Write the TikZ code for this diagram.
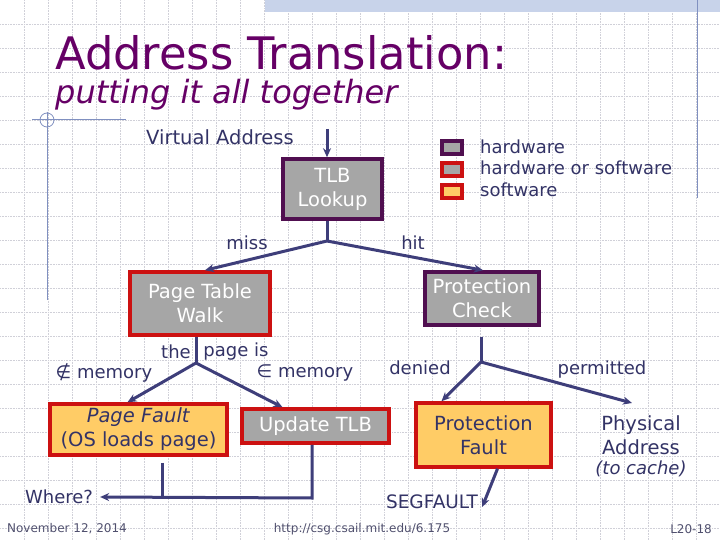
\documentclass[tikz,border=0pt]{standalone}
\usepackage{fontspec}
\setmainfont{DejaVu Sans}
\definecolor{slidepurple}{RGB}{102,0,102}
\definecolor{slidenavy}{RGB}{51,51,102}
\definecolor{linenavy}{RGB}{62,62,122}
\definecolor{footgray}{RGB}{80,80,110}
\definecolor{boxgray}{RGB}{166,166,166}
\definecolor{boxorange}{RGB}{255,204,102}
\definecolor{hwedge}{RGB}{80,15,80}
\definecolor{swedge}{RGB}{204,17,17}
\definecolor{gridgray}{RGB}{208,208,216}
\definecolor{bandblue}{RGB}{200,211,234}
\definecolor{rulerblue}{RGB}{128,144,192}
\usetikzlibrary{arrows.meta,positioning,calc}

\newcommand{\boxfont}{\fontsize{19.5}{24}\selectfont}
\newcommand{\lblfont}{\fontsize{18}{24}\selectfont}

\begin{document}
\begin{tikzpicture}[x=1pt,y=-1pt,
    gridline/.style={draw=gridgray, densely dotted, line width=0.6pt},
    hwbox/.style={draw=hwedge, fill=boxgray, line width=3.5pt, text=white, align=center, inner sep=0pt, font=\boxfont},
    mixbox/.style={hwbox, draw=swedge},
    swbox/.style={mixbox, fill=boxorange, text=slidenavy},
    keybox/.style={line width=3.5pt, minimum width=20pt, minimum height=13pt, inner sep=0pt},
    lbl/.style={text=slidenavy, font=\lblfont, inner sep=1pt, align=center},
    foot/.style={text=footgray, font=\fontsize{12}{14}\selectfont, inner sep=0pt},
    flow/.style={draw=linenavy, line width=3pt},
    arr/.style={flow, -{Stealth[length=9pt,width=8pt]}},
]
    \useasboundingbox (0,0) rectangle (720,540);
    \fill[white] (0,0) rectangle (720,540);
    \foreach \gx in {1,...,29}
        \draw[gridline] (24*\gx+0.5,0) -- (24*\gx+0.5,540);
    \foreach \gy in {1,...,22}
        \draw[gridline] (0,24*\gy) -- (720,24*\gy);
    \fill[bandblue] (265,0) rectangle (720,12);
    \draw[rulerblue, line width=1pt] (697,0) -- (697,198);
    \draw[rulerblue, line width=1pt] (32,120) -- (126,120);
    \draw[rulerblue, line width=1pt] (47,112) -- (47,300);
    \draw[rulerblue, line width=0.8pt] (47,120) circle[radius=7];

    \node[anchor=base west, text=slidepurple, font=\fontsize{44.8}{48}\selectfont, inner sep=0pt] (title) at (55,70) {Address Translation:};
    \node[anchor=base west, text=slidepurple, font=\fontsize{32}{34}\selectfont\itshape, inner sep=0pt] (subtitle) at (55,104) {putting it all together};

    % legend
    \node[keybox, draw=hwedge, fill=boxgray] (khw) at (452,147.5) {};
    \node[keybox, draw=swedge, fill=boxgray] (kmix) at (452,169.5) {};
    \node[keybox, draw=swedge, fill=boxorange] (ksw) at (452,191.5) {};
    \node[lbl, anchor=west] (lhw) at (479,147) {hardware};
    \node[lbl, anchor=west] (lmix) at (479,168) {hardware or software};
    \node[lbl, anchor=west] (lsw) at (479,190) {software};

    % boxes
    \node[lbl, font=\boxfont] (va) at (220,137) {Virtual Address};
    \node[hwbox, minimum width=99pt, minimum height=60pt] (tlb) at (332.5,189) {TLB\\Lookup};
    \node[mixbox, minimum width=140pt, minimum height=63pt] (ptw) at (200,303.5) {Page Table\\Walk};
    \node[hwbox, minimum width=114pt, minimum height=53pt] (pcheck) at (482,298.5) {Protection\\Check};
    \node[swbox, minimum width=177pt, minimum height=51pt] (pfault) at (138.5,429.5) {\textit{Page Fault}\\(OS loads page)};
    \node[mixbox, minimum width=147pt, minimum height=34pt] (utlb) at (315.5,426) {Update TLB};
    \node[swbox, minimum width=135pt, minimum height=64pt] (prfault) at (483.5,435) {Protection\\Fault};
    \node[lbl, font=\boxfont] (phys) at (641,435) {Physical\\Address};
    \node[lbl] (tocache) at (641,469) {\textit{(to cache)}};
    \node[lbl] (where) at (59,497) {Where?};
    \node[lbl, font=\fontsize{18.5}{24}\selectfont] (segf) at (432,502) {SEGFAULT};

    % labels
    \node[lbl] (miss) at (247,243) {miss};
    \node[lbl] (hit) at (413,243) {hit};
    \node[lbl] (the) at (176,352) {the};
    \node[lbl] (pageis) at (236,352) {page is};
    \node[lbl] (notin) at (104,373) {∉ memory};
    \node[lbl] (isin) at (305,373) {∈ memory};
    \node[lbl] (denied) at (420,368) {denied};
    \node[lbl] (permitted) at (602,370) {permitted};

    % connectors
    \coordinate (vatop) at (327,129);
    \coordinate (tlbsplit) at (327,241);
    \coordinate (ptwsplit) at (196,363);
    \coordinate (pcsplit) at (481,362);
    \coordinate (physend) at (632,403);
    \coordinate (wherejoin) at (312,498);
    \draw[arr] (vatop) -- (tlb.north -| vatop);
    \draw[flow] (tlb.south -| tlbsplit) -- (tlbsplit);
    \draw[arr] (tlbsplit) -- ([xshift=5pt]ptw.north);
    \draw[arr] (tlbsplit) -- ([xshift=1pt]pcheck.north);
    \draw[flow] (ptw.south -| ptwsplit) -- (ptwsplit);
    \draw[arr] (ptwsplit) -- ([xshift=-11pt]pfault.north);
    \draw[arr] (ptwsplit) -- ([xshift=-33pt]utlb.north);
    \draw[flow] ([yshift=-10pt]pcheck.south -| pcsplit) -- (pcsplit);
    \draw[arr] (pcsplit) -- ([xshift=-42pt]prfault.north);
    \draw[arr] (pcsplit) -- (physend);
    \draw[arr] (utlb.south -| wherejoin) -- (wherejoin) -- ([xshift=6pt]where.east);
    \draw[flow] ([yshift=-6pt]pfault.south -| 162,0) -- (162,498);
    \draw[arr] ([xshift=14pt]prfault.south) -- ([xshift=3pt,yshift=-5pt]segf.east);

    % footer
    \node[foot] (date) at (67,529) {November 12, 2014};
    \node[foot] (url) at (362,529) {http://csg.csail.mit.edu/6.175};
    \node[foot, anchor=east] (slideno) at (712,529) {L20-18};
\end{tikzpicture}
\end{document}
